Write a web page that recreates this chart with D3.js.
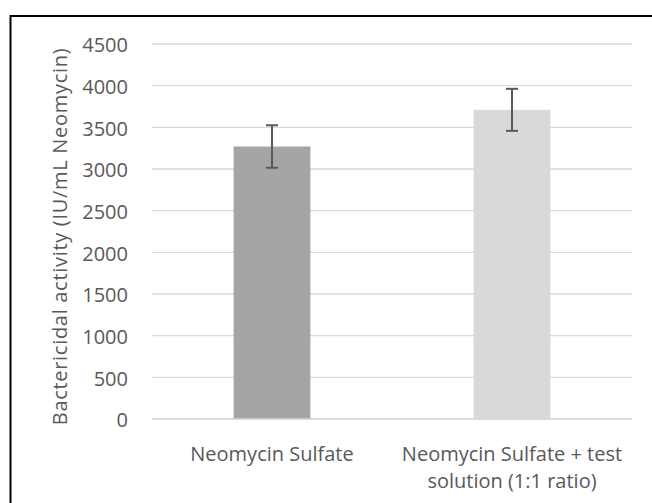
<!DOCTYPE html>
<html>
<head>
<meta charset="utf-8">
<script src="https://cdn.jsdelivr.net/npm/d3@7"></script>
<style>
  html, body { margin: 0; padding: 0; background: #fff; }
  svg { display: block; }
  text { font-family: "Open Sans", sans-serif; fill: #595959; }
</style>
</head>
<body>
<svg id="chart" width="652" height="503"></svg>
<script>
const categories = [["Neomycin Sulfate"], ["Neomycin Sulfate + test", "solution (1:1 ratio)"]];
const values = [3270, 3710];
const errors = [255, 252];
const yTicks = [0, 500, 1000, 1500, 2000, 2500, 3000, 3500, 4000, 4500];
const yTitle = "Bactericidal activity (IU/mL Neomycin)";
const colors = ["#a5a5a5", "#d9d9d9"];

(function () {
const svg = d3.select("#chart");
const W = 652, H = 503;
svg.append("rect").attr("width", W).attr("height", H).attr("fill", "#fff");
// chart border
svg.append("rect").attr("x", 10.5).attr("y", 16).attr("width", 700).attr("height", 600)
  .attr("fill", "none").attr("stroke", "#000").attr("stroke-width", 2);

const mLeft = 152, mRight = 632, mTop = 44, mBottom = 419;
const x = d3.scaleBand().domain(d3.range(categories.length)).range([mLeft, mRight]).padding(0);
const y = d3.scaleLinear().domain([0, 4500]).range([mBottom, mTop]);

// gridlines
svg.append("g").selectAll("line").data(yTicks).join("line")
  .attr("x1", mLeft).attr("x2", mRight)
  .attr("y1", d => y(d)).attr("y2", d => y(d))
  .attr("stroke", "#d9d9d9").attr("stroke-width", 1.3);

// y tick labels
svg.append("g").selectAll("text").data(yTicks).join("text")
  .attr("x", 128).attr("y", d => y(d)).attr("dy", "0.42em")
  .attr("text-anchor", "end").attr("font-size", 20).text(d => d);

// bars
const bw = x.bandwidth() * 0.32;
svg.append("g").selectAll("rect").data(values).join("rect")
  .attr("x", (d, i) => x(i) + x.bandwidth() / 2 - bw / 2)
  .attr("width", bw)
  .attr("y", d => y(d)).attr("height", d => y(0) - y(d))
  .attr("fill", (d, i) => colors[i]);

// x axis line
svg.append("line").attr("x1", mLeft).attr("x2", mRight).attr("y1", y(0)).attr("y2", y(0))
  .attr("stroke", "#d9d9d9").attr("stroke-width", 1.3);

// error bars
const eg = svg.append("g").attr("stroke", "#595959").attr("stroke-width", 2);
values.forEach((v, i) => {
  const cx = x(i) + x.bandwidth() / 2;
  eg.append("line").attr("x1", cx).attr("x2", cx).attr("y1", y(v + errors[i])).attr("y2", y(v - errors[i]));
  [v + errors[i], v - errors[i]].forEach(e => {
    eg.append("line").attr("x1", cx - 6).attr("x2", cx + 6).attr("y1", y(e)).attr("y2", y(e));
  });
});

// x labels
categories.forEach((lines, i) => {
  const cx = x(i) + x.bandwidth() / 2;
  const t = svg.append("text").attr("text-anchor", "middle").attr("font-size", 20);
  lines.forEach((ln, j) => {
    t.append("tspan").attr("x", cx).attr("y", 461 + j * 26.5).text(ln);
  });
});

// y title
svg.append("text").attr("transform", `translate(66.5, 236.5) rotate(-90)`)
  .attr("text-anchor", "middle").attr("font-size", 20).attr("letter-spacing", 0.7).text(yTitle);
})();
</script>
